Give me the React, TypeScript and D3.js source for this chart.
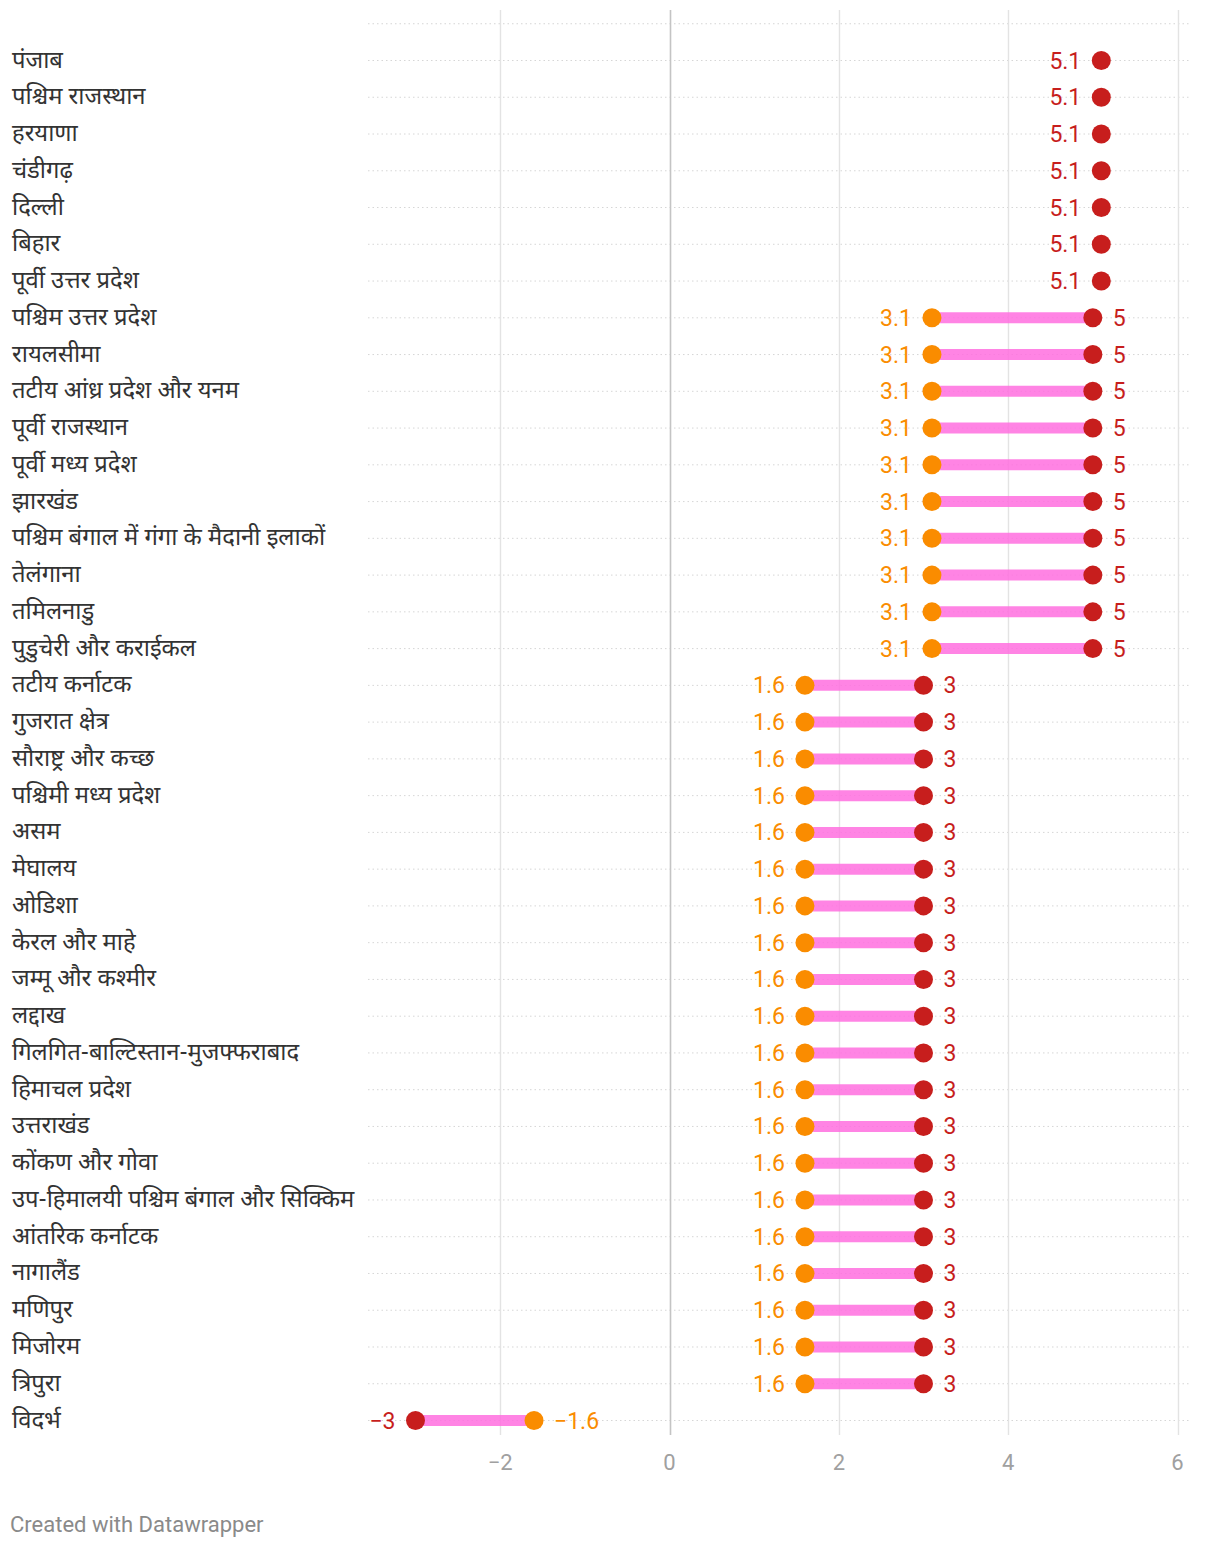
import React from "react";
import * as d3 from "d3";

const categories = [
  "पंजाब", "पश्चिम राजस्थान", "हरयाणा", "चंडीगढ़", "दिल्ली", "बिहार", "पूर्वी उत्तर प्रदेश",
  "पश्चिम उत्तर प्रदेश", "रायलसीमा", "तटीय आंध्र प्रदेश और यनम", "पूर्वी राजस्थान", "पूर्वी मध्य प्रदेश",
  "झारखंड", "पश्चिम बंगाल में गंगा के मैदानी इलाकों", "तेलंगाना", "तमिलनाडु", "पुडुचेरी और कराईकल",
  "तटीय कर्नाटक", "गुजरात क्षेत्र", "सौराष्ट्र और कच्छ", "पश्चिमी मध्य प्रदेश", "असम", "मेघालय", "ओडिशा",
  "केरल और माहे", "जम्मू और कश्मीर", "लद्दाख", "गिलगित-बाल्टिस्तान-मुजफ्फराबाद", "हिमाचल प्रदेश",
  "उत्तराखंड", "कोंकण और गोवा", "उप-हिमालयी पश्चिम बंगाल और सिक्किम", "आंतरिक कर्नाटक", "नागालैंड",
  "मणिपुर", "मिजोरम", "त्रिपुरा", "विदर्भ",
];

// orange series (start)
const startValues = [
  5.1, 5.1, 5.1, 5.1, 5.1, 5.1, 5.1,
  3.1, 3.1, 3.1, 3.1, 3.1, 3.1, 3.1, 3.1, 3.1, 3.1,
  1.6, 1.6, 1.6, 1.6, 1.6, 1.6, 1.6, 1.6, 1.6, 1.6, 1.6, 1.6, 1.6, 1.6, 1.6, 1.6, 1.6, 1.6, 1.6, 1.6,
  -1.6,
];

// red series (end)
const endValues = [
  5.1, 5.1, 5.1, 5.1, 5.1, 5.1, 5.1,
  5, 5, 5, 5, 5, 5, 5, 5, 5, 5,
  3, 3, 3, 3, 3, 3, 3, 3, 3, 3, 3, 3, 3, 3, 3, 3, 3, 3, 3, 3,
  -3,
];

const xTicks = [-2, 0, 2, 4, 6];

const RED = "#c71e1d";
const ORANGE = "#fa8c00";
const PINK = "#ff6edf";

const fmt = (v: number) => (v < 0 ? "\u2212" + String(Math.abs(v)) : String(v));

export default function App() {
  const W = 1220;
  const H = 1548;
  const x = d3.scaleLinear().domain([0, 6]).range([669.5, 1177.5]);
  const y = d3.scalePoint<string>().domain(categories).range([60.5, 1420.5]);
  const step = y.step();
  const gridLeft = 368;
  const gridRight = 1189;
  const rowLines = [y(categories[0])! - step, ...categories.map((c) => y(c)!)];
  const numFont = "Roboto, sans-serif";
  const r = 9.5;
  const off = 20;
  const vfs = 23;

  return (
    <svg width={W} height={H} style={{ display: "block", position: "absolute", left: 0, top: 0, background: "#fff" }}>
      {rowLines.map((yy, i) => (
        <line key={"r" + i} x1={gridLeft} x2={gridRight} y1={yy} y2={yy}
          stroke="#d6d6d6" strokeWidth={1} strokeDasharray="1.5 3" />
      ))}
      {xTicks.map((t) => (
        <line key={"g" + t} x1={Math.round(x(t)) + 0.5} x2={Math.round(x(t)) + 0.5} y1={10} y2={1435}
          stroke={t === 0 ? "#c4c4c4" : "#e3e3e3"} strokeWidth={t === 0 ? 1.6 : 1.4} />
      ))}
      {xTicks.map((t) => (
        <text key={"t" + t} x={x(t)} y={1470} textAnchor="middle" fontFamily={numFont}
          fontSize={22} fill="#a0a0a0">{fmt(t)}</text>
      ))}
      {categories.map((c) => (
        <text key={"c" + c} x={12} y={y(c)! + 7} fontFamily="'Noto Sans Devanagari', 'Noto Sans', Roboto, sans-serif" fontSize={23.8} fill="#333">{c}</text>
      ))}
      {categories.map((c, i) => {
        const a = startValues[i];
        const b = endValues[i];
        const yy = y(c)!;
        const xa = x(a);
        const xb = x(b);
        const els: React.ReactNode[] = [];
        if (a === b) {
          els.push(<circle key="d" cx={xb} cy={yy} r={r} fill={RED} />);
          els.push(<text key="l" x={xb - off} y={yy + 8} textAnchor="end" fontFamily={numFont} fontSize={vfs} fill={RED}>{fmt(b)}</text>);
        } else {
          els.push(<line key="bar" x1={xa} x2={xb} y1={yy} y2={yy} stroke={PINK} strokeOpacity={0.85} strokeWidth={11} />);
          els.push(<circle key="da" cx={xa} cy={yy} r={r} fill={ORANGE} />);
          els.push(<circle key="db" cx={xb} cy={yy} r={r} fill={RED} />);
          const aLeft = a < b;
          els.push(<text key="la" x={aLeft ? xa - off : xa + off} y={yy + 8} textAnchor={aLeft ? "end" : "start"}
            fontFamily={numFont} fontSize={vfs} fill={ORANGE}>{fmt(a)}</text>);
          els.push(<text key="lb" x={aLeft ? xb + off : xb - off} y={yy + 8} textAnchor={aLeft ? "start" : "end"}
            fontFamily={numFont} fontSize={vfs} fill={RED}>{fmt(b)}</text>);
        }
        return <g key={"p" + c}>{els}</g>;
      })}
      <text x={10} y={1532} fontFamily={numFont} fontSize={22} fill="#8a8a8a">Created with Datawrapper</text>
    </svg>
  );
}
